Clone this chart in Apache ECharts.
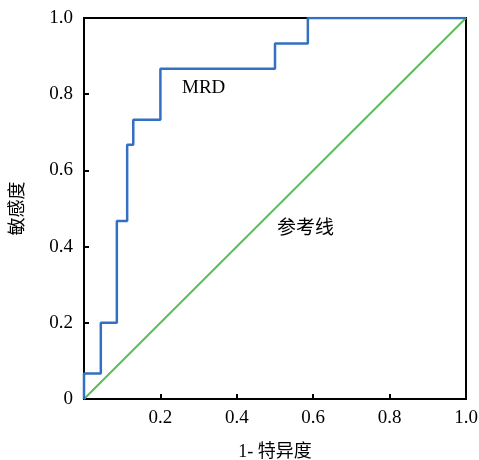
<!DOCTYPE html>
<html>
<head>
<meta charset="utf-8">
<script src="https://cdn.jsdelivr.net/npm/echarts@6/dist/echarts.min.js"></script>
<style>html,body{margin:0;padding:0;background:#fff;}#c{width:479px;height:460px;}</style>
</head>
<body>
<div id="c"></div>
<script>
// ROC curve (MRD): false positive rate (1-specificity) and sensitivity, step points
const fpr = [0, 0, 0.044, 0.086, 0.113, 0.129, 0.2, 0.5, 0.586, 1];
const tpr = [0, 0.067, 0.2, 0.467, 0.667, 0.733, 0.867, 0.933, 1, 1];
// Reference line
const refX = [0, 1];
const refY = [0, 1];
const xTicks = [0, 0.2, 0.4, 0.6, 0.8, 1.0];
const yTicks = [0, 0.2, 0.4, 0.6, 0.8, 1.0];
const xName = '1- 特异度';
const yName = '敏感度';
const curveName = 'MRD';
const refName = '参考线';

const FONT = "'Liberation Serif', 'Times New Roman', Times, 'Noto Sans CJK SC', serif";
const chart = echarts.init(document.getElementById('c'));
const fmt = v => (v === 0 ? '0' : v.toFixed(1));
chart.setOption({
  animation: false,
  backgroundColor: '#fff',
  textStyle: { fontFamily: FONT },
  grid: { left: 84, right: 13, top: 18, bottom: 61, outerBoundsMode: 'none', containLabel: false,
          show: true, borderColor: '#000', borderWidth: 2, backgroundColor: 'transparent' },
  xAxis: {
    type: 'value', min: xTicks[0], max: xTicks[xTicks.length - 1], interval: 0.2,
    name: xName, nameLocation: 'middle', nameGap: 44,
    nameTextStyle: { fontFamily: FONT, fontSize: 18, color: '#000' },
    axisLine: { lineStyle: { color: '#000', width: 2 } },
    axisTick: { inside: true, length: 5, lineStyle: { color: '#000', width: 2 } },
    axisLabel: { showMinLabel: false, formatter: fmt, fontFamily: FONT, fontSize: 19, color: '#000', margin: 10 },
    splitLine: { show: false }
  },
  yAxis: {
    type: 'value', min: yTicks[0], max: yTicks[yTicks.length - 1], interval: 0.2,
    name: yName, nameLocation: 'middle', nameGap: 57, nameRotate: 90,
    nameTextStyle: { fontFamily: FONT, fontSize: 18, color: '#000' },
    axisLine: { lineStyle: { color: '#000', width: 2 } },
    axisTick: { inside: true, length: 5, lineStyle: { color: '#000', width: 2 } },
    axisLabel: { formatter: fmt, fontFamily: FONT, fontSize: 19, color: '#000', margin: 11 },
    splitLine: { show: false }
  },
  series: [
    {
      name: refName, type: 'line', data: refX.map((x, i) => [x, refY[i]]),
      symbol: 'none', lineStyle: { color: '#5cbd5c', width: 2 }, z: 2
    },
    {
      name: curveName, type: 'line', step: 'end', data: fpr.map((x, i) => [x, tpr[i]]),
      symbol: 'none', lineStyle: { color: '#3370c4', width: 2.5 }, z: 3
    }
  ],
  graphic: [
    { type: 'text', left: 182, top: 79, style: { text: curveName, fontFamily: FONT, fontSize: 19, fill: '#000' } },
    { type: 'text', left: 277, top: 220, style: { text: refName, fontFamily: FONT, fontSize: 19, fill: '#000' } }
  ]
});
</script>
</body>
</html>
